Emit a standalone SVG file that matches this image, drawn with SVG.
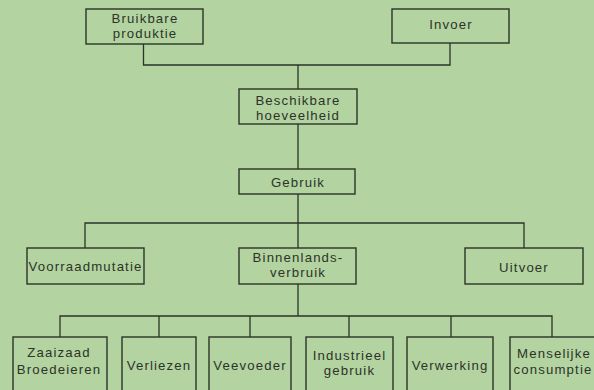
<svg xmlns="http://www.w3.org/2000/svg" width="594" height="390" viewBox="0 0 594 390">
<style>
.box{fill:none;stroke:#2c3428;stroke-width:1.4}
.ln{fill:none;stroke:#2c3428;stroke-width:1.3}
text{font-family:"Liberation Sans",Arial,sans-serif;font-size:13.2px;fill:#2c3428;text-anchor:middle;letter-spacing:1.15px}
</style>
<rect x="0" y="0" width="594" height="390" fill="#b3d3a1"/>
<g id="connectors">
<path class="ln" d="M143.5 44V65H450V43M298 65V89M298 124V169M298 194V248M85 248V223H524V248M298 284V316M60 337V316H552V337M159 316V337M250 316V337M349 316V337M451 316V337"/>
</g>
<g id="bruikbare"><rect class="box" x="86" y="9" width="117" height="35"/><text x="145" y="23">Bruikbare</text><text x="145" y="38">produktie</text></g>
<g id="invoer"><rect class="box" x="392" y="9" width="117" height="34"/><text x="451" y="29">Invoer</text></g>
<g id="beschikbare"><rect class="box" x="239" y="89" width="118" height="35"/><text x="298" y="105">Beschikbare</text><text x="298" y="120">hoeveelheid</text></g>
<g id="gebruik"><rect class="box" x="239" y="169" width="116" height="25"/><text x="298" y="187">Gebruik</text></g>
<g id="voorraadmutatie"><rect class="box" x="27" y="248" width="117" height="36"/><text x="85.5" y="271">Voorraadmutatie</text></g>
<g id="binnenlands"><rect class="box" x="239" y="248" width="117" height="36"/><text x="298" y="262">Binnenlands-</text><text x="298" y="277">verbruik</text></g>
<g id="uitvoer"><rect class="box" x="465" y="248" width="118" height="36"/><text x="524" y="272">Uitvoer</text></g>
<g id="zaaizaad"><rect class="box" x="13" y="337" width="94" height="60"/><text x="59" y="357">Zaaizaad</text><text x="59" y="374">Broedeieren</text></g>
<g id="verliezen"><rect class="box" x="122" y="337" width="74" height="60"/><text x="159" y="370">Verliezen</text></g>
<g id="veevoeder"><rect class="box" x="209" y="337" width="82" height="60"/><text x="250" y="370">Veevoeder</text></g>
<g id="industrieel"><rect class="box" x="306" y="337" width="87" height="60"/><text x="349.5" y="360">Industrieel</text><text x="349.5" y="375">gebruik</text></g>
<g id="verwerking"><rect class="box" x="407" y="337" width="86" height="60"/><text x="450" y="370">Verwerking</text></g>
<g id="menselijke"><rect class="box" x="510" y="337" width="95" height="60"/><text x="554" y="358">Menselijke</text><text x="553" y="374">consumptie</text></g>
</svg>
